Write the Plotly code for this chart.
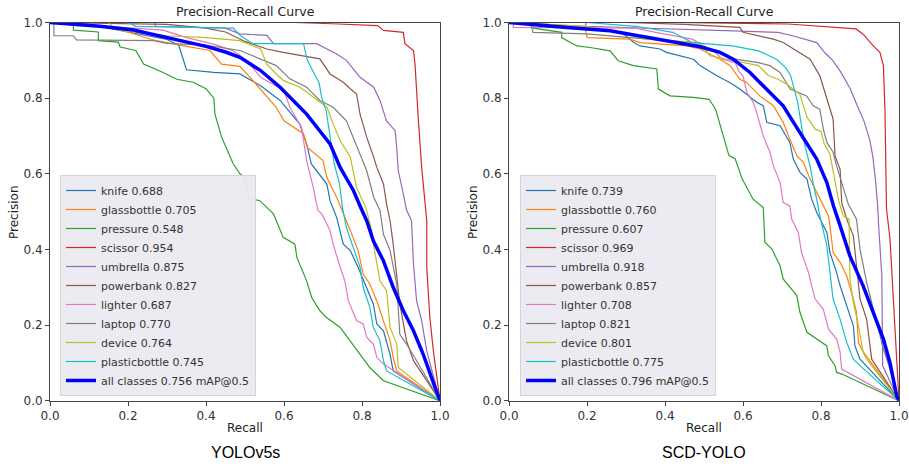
import plotly.graph_objects as go

W, H = 909, 466

classes = ["knife", "glassbottle", "pressure", "scissor", "umbrella",
           "powerbank", "lighter", "laptop", "device", "plasticbottle"]
colors = ["#1f77b4", "#ff7f0e", "#2ca02c", "#d62728", "#9467bd",
          "#8c564b", "#e377c2", "#7f7f7f", "#bcbd22", "#17becf"]

ap_yolov5s = [0.688, 0.705, 0.548, 0.954, 0.875, 0.827, 0.687, 0.770, 0.764, 0.745]
map_yolov5s = 0.756
ap_scd = [0.739, 0.760, 0.607, 0.969, 0.918, 0.857, 0.708, 0.821, 0.801, 0.775]
map_scd = 0.796

# ---------------- YOLOv5s (left) ----------------
knife_L_r = [0, 0.1, 0.2, 0.3, 0.33, 0.35, 0.42, 0.487, 0.54, 0.59, 0.64, 0.658, 0.67, 0.71, 0.718, 0.735, 0.752, 0.77, 0.79, 0.812, 0.829, 0.838, 0.855, 0.872, 0.88, 1.0]
knife_L_p = [1, 0.995, 0.975, 0.955, 0.94, 0.875, 0.868, 0.864, 0.833, 0.794, 0.732, 0.679, 0.626, 0.573, 0.529, 0.485, 0.414, 0.397, 0.353, 0.30, 0.256, 0.203, 0.185, 0.123, 0.079, 0]
glass_L_r = [0, 0.15, 0.2, 0.26, 0.34, 0.41, 0.44, 0.487, 0.52, 0.58, 0.6, 0.65, 0.66, 0.70, 0.71, 0.735, 0.77, 0.79, 0.803, 0.82, 0.838, 0.855, 0.872, 0.88, 0.889, 1.0]
glass_L_p = [1, 0.99, 0.975, 0.955, 0.939, 0.926, 0.89, 0.884, 0.847, 0.776, 0.74, 0.706, 0.67, 0.635, 0.59, 0.538, 0.45, 0.397, 0.335, 0.309, 0.264, 0.212, 0.159, 0.115, 0.079, 0]
pressure_L_r = [0, 0.06, 0.06, 0.124, 0.124, 0.175, 0.18, 0.22, 0.24, 0.29, 0.325, 0.367, 0.40, 0.42, 0.423, 0.44, 0.47, 0.487, 0.50, 0.51, 0.538, 0.573, 0.598, 0.628, 0.633, 0.658, 0.671, 0.692, 0.709, 0.744, 0.769, 0.795, 0.82, 0.855, 1.0]
pressure_L_p = [1, 1.0, 0.98, 0.975, 0.952, 0.948, 0.935, 0.926, 0.89, 0.868, 0.85, 0.842, 0.825, 0.80, 0.758, 0.697, 0.626, 0.60, 0.59, 0.535, 0.529, 0.494, 0.432, 0.414, 0.379, 0.317, 0.273, 0.238, 0.22, 0.194, 0.159, 0.123, 0.088, 0.053, 0]
scissor_L_r = [0, 0.628, 0.74, 0.84, 0.855, 0.906, 0.91, 0.932, 0.936, 0.94, 0.944, 0.953, 0.96, 0.966, 0.966, 0.974, 0.983, 1.0]
scissor_L_p = [1, 1.0, 0.996, 0.992, 0.979, 0.974, 0.944, 0.926, 0.89, 0.811, 0.75, 0.617, 0.547, 0.476, 0.353, 0.22, 0.132, 0]
umbrella_L_r = [0, 0.27, 0.27, 0.45, 0.487, 0.556, 0.573, 0.684, 0.71, 0.735, 0.76, 0.778, 0.795, 0.83, 0.846, 0.863, 0.885, 0.889, 0.893, 0.906, 0.914, 0.927, 0.932, 0.94, 0.953, 0.966, 1.0]
umbrella_L_p = [1, 1.0, 0.99, 0.985, 0.97, 0.966, 0.944, 0.944, 0.93, 0.917, 0.90, 0.877, 0.855, 0.829, 0.794, 0.74, 0.714, 0.67, 0.608, 0.547, 0.505, 0.476, 0.362, 0.264, 0.212, 0.132, 0]
powerbank_L_r = [0, 0.3, 0.4, 0.45, 0.5, 0.556, 0.598, 0.692, 0.718, 0.752, 0.77, 0.786, 0.795, 0.812, 0.83, 0.838, 0.855, 0.863, 0.872, 0.88, 0.897, 0.914, 0.932, 1.0]
powerbank_L_p = [1, 0.995, 0.985, 0.975, 0.95, 0.93, 0.921, 0.904, 0.864, 0.842, 0.825, 0.811, 0.758, 0.697, 0.644, 0.617, 0.573, 0.52, 0.476, 0.414, 0.256, 0.159, 0.106, 0]
lighter_L_r = [0, 0.154, 0.29, 0.35, 0.42, 0.47, 0.504, 0.54, 0.6, 0.615, 0.645, 0.658, 0.675, 0.687, 0.697, 0.718, 0.726, 0.744, 0.756, 0.765, 0.786, 0.803, 0.812, 0.829, 0.838, 0.855, 1.0]
lighter_L_p = [1, 0.99, 0.98, 0.96, 0.943, 0.925, 0.90, 0.855, 0.82, 0.776, 0.723, 0.635, 0.564, 0.503, 0.494, 0.45, 0.414, 0.353, 0.317, 0.264, 0.212, 0.203, 0.168, 0.15, 0.115, 0.097, 0]
laptop_L_r = [0, 0.01, 0.01, 0.06, 0.068, 0.265, 0.3, 0.4, 0.487, 0.54, 0.58, 0.615, 0.658, 0.692, 0.726, 0.76, 0.778, 0.795, 0.812, 0.83, 0.846, 0.855, 0.872, 0.889, 0.897, 0.914, 0.94, 1.0]
laptop_L_p = [1, 1.0, 0.965, 0.965, 0.954, 0.952, 0.945, 0.94, 0.926, 0.904, 0.886, 0.851, 0.829, 0.794, 0.776, 0.74, 0.697, 0.652, 0.608, 0.538, 0.503, 0.44, 0.397, 0.309, 0.176, 0.15, 0.106, 0]
device_L_r = [0, 0.15, 0.17, 0.3, 0.4, 0.487, 0.54, 0.556, 0.58, 0.598, 0.641, 0.675, 0.71, 0.726, 0.744, 0.77, 0.786, 0.81, 0.825, 0.83, 0.846, 0.863, 0.872, 0.889, 0.893, 1.0]
device_L_p = [1, 1.0, 0.98, 0.965, 0.96, 0.952, 0.93, 0.89, 0.864, 0.847, 0.829, 0.802, 0.776, 0.732, 0.688, 0.644, 0.564, 0.51, 0.45, 0.41, 0.317, 0.291, 0.194, 0.15, 0.088, 0]
plastic_L_r = [0, 0.2, 0.22, 0.47, 0.487, 0.52, 0.65, 0.66, 0.675, 0.69, 0.697, 0.708, 0.718, 0.728, 0.742, 0.75, 0.76, 0.782, 0.795, 0.803, 0.82, 0.829, 0.846, 0.855, 0.863, 1.0]
plastic_L_p = [1, 1.0, 0.99, 0.985, 0.966, 0.944, 0.944, 0.90, 0.87, 0.84, 0.80, 0.767, 0.70, 0.63, 0.575, 0.51, 0.458, 0.388, 0.353, 0.30, 0.247, 0.194, 0.159, 0.106, 0.079, 0]
all_L_r = [0, 0.043, 0.128, 0.214, 0.256, 0.316, 0.35, 0.40, 0.45, 0.487, 0.54, 0.59, 0.658, 0.718, 0.744, 0.778, 0.795, 0.812, 0.829, 0.855, 0.88, 0.906, 0.932, 0.957, 0.978, 1.0]
all_L_p = [1, 0.997, 0.99, 0.98, 0.97, 0.956, 0.95, 0.937, 0.922, 0.908, 0.873, 0.829, 0.758, 0.679, 0.617, 0.556, 0.515, 0.476, 0.423, 0.37, 0.30, 0.238, 0.185, 0.123, 0.062, 0]

# ---------------- SCD-YOLO (right) ----------------
knife_R_r = [0, 0.1, 0.2, 0.28, 0.30, 0.32, 0.336, 0.387, 0.404, 0.438, 0.473, 0.49, 0.533, 0.567, 0.592, 0.635, 0.652, 0.661, 0.695, 0.72, 0.729, 0.746, 0.764, 0.776, 0.789, 0.815, 0.823, 0.84, 0.849, 0.866, 0.883, 0.887, 0.90, 1.0]
knife_R_p = [1, 0.995, 0.985, 0.975, 0.965, 0.947, 0.938, 0.93, 0.921, 0.912, 0.903, 0.886, 0.859, 0.841, 0.824, 0.789, 0.78, 0.736, 0.727, 0.683, 0.639, 0.604, 0.586, 0.533, 0.498, 0.445, 0.392, 0.339, 0.304, 0.251, 0.198, 0.145, 0.11, 0]
glass_R_r = [0, 0.195, 0.2, 0.31, 0.336, 0.456, 0.49, 0.541, 0.567, 0.592, 0.61, 0.643, 0.678, 0.703, 0.72, 0.738, 0.755, 0.772, 0.789, 0.806, 0.819, 0.823, 0.831, 0.849, 0.866, 0.883, 0.891, 0.896, 0.908, 1.0]
glass_R_p = [1, 0.99, 0.96, 0.956, 0.947, 0.938, 0.93, 0.903, 0.886, 0.85, 0.841, 0.806, 0.78, 0.736, 0.692, 0.648, 0.63, 0.586, 0.551, 0.515, 0.489, 0.463, 0.392, 0.366, 0.33, 0.269, 0.234, 0.154, 0.13, 0]
pressure_R_r = [0, 0.062, 0.062, 0.135, 0.135, 0.174, 0.208, 0.259, 0.28, 0.319, 0.379, 0.383, 0.413, 0.473, 0.513, 0.53, 0.547, 0.564, 0.58, 0.598, 0.626, 0.652, 0.656, 0.674, 0.695, 0.703, 0.738, 0.746, 0.764, 0.789, 0.815, 0.819, 0.836, 0.84, 0.855, 1.0]
pressure_R_p = [1, 1.0, 0.985, 0.974, 0.96, 0.938, 0.934, 0.925, 0.899, 0.886, 0.877, 0.824, 0.806, 0.802, 0.797, 0.77, 0.709, 0.648, 0.64, 0.586, 0.533, 0.511, 0.419, 0.401, 0.357, 0.322, 0.278, 0.234, 0.181, 0.163, 0.145, 0.119, 0.093, 0.075, 0.07, 0]
scissor_R_r = [0, 0.42, 0.716, 0.857, 0.89, 0.908, 0.934, 0.951, 0.96, 0.964, 0.968, 0.977, 0.985, 0.994, 1.0]
scissor_R_p = [1, 1.0, 0.996, 0.987, 0.983, 0.969, 0.938, 0.921, 0.886, 0.771, 0.507, 0.427, 0.269, 0.119, 0]
umbrella_R_r = [0, 0.197, 0.197, 0.46, 0.6, 0.69, 0.727, 0.746, 0.789, 0.81, 0.83, 0.85, 0.875, 0.893, 0.91, 0.925, 0.933, 0.94, 0.945, 0.948, 0.952, 0.956, 0.958, 1.0]
umbrella_R_p = [1, 1.0, 0.99, 0.982, 0.978, 0.974, 0.965, 0.96, 0.947, 0.92, 0.90, 0.87, 0.825, 0.78, 0.74, 0.69, 0.645, 0.58, 0.52, 0.46, 0.40, 0.33, 0.093, 0]
powerbank_R_r = [0, 0.3, 0.45, 0.592, 0.60, 0.678, 0.703, 0.729, 0.772, 0.797, 0.815, 0.831, 0.836, 0.849, 0.853, 0.866, 0.883, 0.891, 0.90, 0.917, 0.926, 0.93, 1.0]
powerbank_R_p = [1, 1.0, 0.995, 0.987, 0.974, 0.956, 0.947, 0.93, 0.903, 0.859, 0.797, 0.745, 0.648, 0.612, 0.524, 0.48, 0.436, 0.357, 0.269, 0.216, 0.137, 0.11, 0]
lighter_R_r = [0, 0.011, 0.011, 0.2, 0.325, 0.376, 0.47, 0.53, 0.547, 0.58, 0.59, 0.60, 0.61, 0.626, 0.635, 0.652, 0.669, 0.678, 0.695, 0.703, 0.72, 0.725, 0.742, 0.75, 0.768, 0.776, 0.785, 0.806, 0.819, 0.84, 0.849, 0.853, 1.0]
lighter_R_p = [1, 1.0, 0.987, 0.985, 0.985, 0.974, 0.956, 0.92, 0.903, 0.894, 0.87, 0.859, 0.815, 0.789, 0.762, 0.70, 0.657, 0.621, 0.577, 0.524, 0.515, 0.48, 0.445, 0.392, 0.339, 0.304, 0.269, 0.242, 0.19, 0.163, 0.128, 0.084, 0]
laptop_R_r = [0, 0.054, 0.062, 0.20, 0.31, 0.47, 0.54, 0.58, 0.64, 0.669, 0.695, 0.721, 0.763, 0.78, 0.797, 0.806, 0.815, 0.831, 0.84, 0.857, 0.87, 0.891, 0.90, 0.917, 0.934, 0.947, 0.96, 0.975, 1.0]
laptop_R_p = [1, 1.0, 0.974, 0.97, 0.96, 0.947, 0.92, 0.903, 0.894, 0.886, 0.868, 0.824, 0.806, 0.78, 0.771, 0.718, 0.683, 0.657, 0.621, 0.56, 0.52, 0.48, 0.401, 0.313, 0.242, 0.19, 0.137, 0.09, 0]
device_R_r = [0, 0.2, 0.353, 0.49, 0.515, 0.60, 0.64, 0.665, 0.69, 0.715, 0.746, 0.764, 0.785, 0.80, 0.808, 0.823, 0.836, 0.845, 0.857, 0.872, 0.874, 0.883, 0.896, 0.908, 0.917, 1.0]
device_R_p = [1, 0.99, 0.956, 0.947, 0.912, 0.894, 0.886, 0.86, 0.85, 0.835, 0.81, 0.75, 0.718, 0.712, 0.68, 0.652, 0.585, 0.53, 0.489, 0.48, 0.322, 0.26, 0.198, 0.128, 0.11, 0]
plastic_R_r = [0, 0.2, 0.325, 0.42, 0.47, 0.573, 0.64, 0.686, 0.71, 0.722, 0.729, 0.74, 0.75, 0.759, 0.772, 0.781, 0.789, 0.797, 0.815, 0.823, 0.831, 0.849, 0.866, 0.883, 0.90, 1.0]
plastic_R_p = [1, 1.0, 0.99, 0.974, 0.947, 0.938, 0.925, 0.903, 0.88, 0.86, 0.833, 0.79, 0.727, 0.674, 0.621, 0.568, 0.533, 0.489, 0.41, 0.339, 0.269, 0.216, 0.154, 0.11, 0.093, 0]
all_R_r = [0, 0.054, 0.148, 0.259, 0.336, 0.404, 0.49, 0.513, 0.541, 0.575, 0.618, 0.66, 0.703, 0.746, 0.789, 0.815, 0.832, 0.849, 0.874, 0.908, 0.934, 0.96, 0.977, 0.994, 1.0]
all_R_p = [1, 0.996, 0.987, 0.978, 0.965, 0.952, 0.936, 0.93, 0.921, 0.903, 0.868, 0.824, 0.78, 0.709, 0.639, 0.577, 0.515, 0.463, 0.383, 0.304, 0.234, 0.163, 0.10, 0.013, 0]

left_curves = [(knife_L_r, knife_L_p), (glass_L_r, glass_L_p), (pressure_L_r, pressure_L_p),
               (scissor_L_r, scissor_L_p), (umbrella_L_r, umbrella_L_p), (powerbank_L_r, powerbank_L_p),
               (lighter_L_r, lighter_L_p), (laptop_L_r, laptop_L_p), (device_L_r, device_L_p),
               (plastic_L_r, plastic_L_p)]
right_curves = [(knife_R_r, knife_R_p), (glass_R_r, glass_R_p), (pressure_R_r, pressure_R_p),
                (scissor_R_r, scissor_R_p), (umbrella_R_r, umbrella_R_p), (powerbank_R_r, powerbank_R_p),
                (lighter_R_r, lighter_R_p), (laptop_R_r, laptop_R_p), (device_R_r, device_R_p),
                (plastic_R_r, plastic_R_p)]

fig = go.Figure()

def add_panel(curves, aps, mAP, all_r, all_p, xa, ya, legend):
    for (r, p), name, ap, col in zip(curves, classes, aps, colors):
        fig.add_trace(go.Scatter(x=r, y=p, mode="lines", name=f"{name} {ap:.3f}",
                                 line=dict(color=col, width=1.2), xaxis=xa, yaxis=ya,
                                 legend=legend, hoverinfo="skip"))
    fig.add_trace(go.Scatter(x=all_r, y=all_p, mode="lines", name=f"all classes {mAP:.3f} mAP@0.5",
                             line=dict(color="#0000ff", width=3.5), xaxis=xa, yaxis=ya,
                             legend=legend, hoverinfo="skip"))

add_panel(left_curves, ap_yolov5s, map_yolov5s, all_L_r, all_L_p, "x", "y", "legend")
add_panel(right_curves, ap_scd, map_scd, all_R_r, all_R_p, "x2", "y2", "legend2")

def px(x):
    return x / W

def py(y):
    return 1 - y / H

ydom = [py(400.8), py(22.5)]
axis_style = dict(range=[0, 1], showline=True, mirror=True, linecolor="#444", linewidth=1,
                  ticks="outside", ticklen=4, tickwidth=1, tickcolor="#444",
                  tickvals=[0, 0.2, 0.4, 0.6, 0.8, 1.0],
                  ticktext=["0.0", "0.2", "0.4", "0.6", "0.8", "1.0"],
                  tickfont=dict(family="DejaVu Sans", size=12, color="#333"),
                  showgrid=False, zeroline=False, fixedrange=True, automargin=False)

legend_style = dict(bgcolor="rgba(234,234,240,0.95)", bordercolor="#d4d4dc", borderwidth=1,
                    font=dict(family="DejaVu Sans", size=11, color="#333"),
                    xanchor="left", yanchor="bottom", itemwidth=30, tracegroupgap=0)

fig.update_layout(
    width=W, height=H, margin=dict(l=0, r=0, t=0, b=0, pad=0, autoexpand=False),
    paper_bgcolor="white", plot_bgcolor="white",
    xaxis=dict(domain=[px(50), px(440)], anchor="y", **axis_style),
    yaxis=dict(domain=ydom, anchor="x", **axis_style),
    xaxis2=dict(domain=[px(509), px(899)], anchor="y2", **axis_style),
    yaxis2=dict(domain=ydom, anchor="x2", **axis_style),
    legend=dict(x=px(60), y=py(396), **legend_style),
    legend2=dict(x=px(520), y=py(396), **legend_style),
    showlegend=True,
)

ann_font = dict(family="DejaVu Sans", size=12.5, color="#222")
cap_font = dict(family="Liberation Sans, Arial", size=16, color="#000")
annots = []
for cx, title_y, lab_x, cap in [(245, 11, 14, "YOLOv5s"), (704, 12, 473, "SCD-YOLO")]:
    annots.append(dict(text="Precision-Recall Curve", x=px(cx), y=py(title_y), xref="paper", yref="paper",
                       showarrow=False, font=ann_font, xanchor="center", yanchor="middle"))
    annots.append(dict(text="Recall", x=px(cx), y=py(428), xref="paper", yref="paper",
                       showarrow=False, font=dict(family="DejaVu Sans", size=12, color="#222"),
                       xanchor="center", yanchor="middle"))
    annots.append(dict(text="Precision", x=px(lab_x), y=py(212), xref="paper", yref="paper",
                       showarrow=False, textangle=-90, font=dict(family="DejaVu Sans", size=12, color="#222"),
                       xanchor="center", yanchor="middle"))
    annots.append(dict(text=cap, x=px(cx), y=py(452), xref="paper", yref="paper",
                       showarrow=False, font=cap_font, xanchor="center", yanchor="middle"))
fig.update_layout(annotations=annots)

fig.write_html("out.html", config={"displayModeBar": False},
               post_script="document.body.style.margin='0';document.body.style.overflow='hidden';")
